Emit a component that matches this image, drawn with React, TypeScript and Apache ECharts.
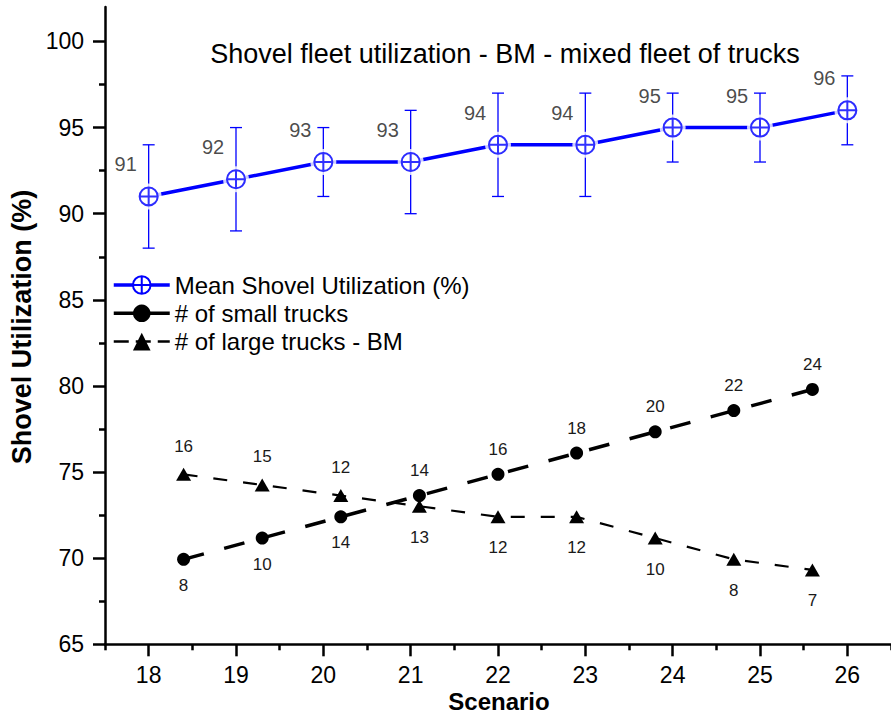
import React, { useEffect, useRef } from 'react';
import * as echarts from 'echarts';

const scenarios = [18, 19, 20, 21, 22, 23, 24, 25, 26];
const meanUtil = [91, 92, 93, 93, 94, 94, 95, 95, 96];
const utilLow = [88, 89, 91, 90, 91, 91, 93, 93, 94];
const utilHigh = [94, 95, 95, 96, 97, 97, 97, 97, 98];

const truckSeq = [1, 2, 3, 4, 5, 6, 7, 8, 9];
const smallTrucks = [8, 10, 12, 14, 16, 18, 20, 22, 24];
const largeTrucks = [16, 15, 14, 13, 12, 12, 10, 8, 7];
const smallTruckLabels = ['8', '10', '14', '14', '16', '18', '20', '22', '24'];
const largeTruckLabels = ['16', '15', '12', '13', '12', '12', '10', '8', '7'];
const smallLabelSide = ['below', 'below', 'below', 'above', 'above', 'above', 'above', 'above', 'above'];
const largeLabelSide = ['above', 'above', 'above', 'below', 'below', 'below', 'below', 'below', 'below'];

const xTicks = [18, 19, 20, 21, 22, 23, 24, 25, 26];
const xMinorTicks = [17.5, 18.5, 19.5, 20.5, 21.5, 22.5, 23.5, 24.5, 25.5, 26.5];
const yTicks = [65, 70, 75, 80, 85, 90, 95, 100];
const yMinorTicks = [67.5, 72.5, 77.5, 82.5, 87.5, 92.5, 97.5];

const NAME_MEAN = 'Mean Shovel Utilization (%)';
const NAME_SMALL = '# of small trucks';
const NAME_LARGE = '# of large trucks - BM';

const BLUE = '#0000ff';
const FONT = 'Arial, "Liberation Sans", sans-serif';
const MARKER = 'path://M0,-10A10,10,0,1,1,0,10A10,10,0,1,1,0,-10ZM-10,0L10,0M0,-10L0,10';

function buildOption() {
  const axisLine = { show: true, lineStyle: { color: '#000', width: 2.5 } };
  const meanData = scenarios.map((s, i) => [s, meanUtil[i]]);
  return {
    animation: false,
    backgroundColor: '#fff',
    textStyle: { fontFamily: FONT },
    grid: { left: 105, right: -3.3, top: 7, bottom: 70.7, containLabel: false },
    legend: {
      data: [
        { name: NAME_MEAN, lineStyle: { width: 3.5 } },
        { name: NAME_SMALL, lineStyle: { type: 'solid', width: 3.5 } },
        { name: NAME_LARGE, lineStyle: { type: [15, 7], width: 2.5 } },
      ],
      orient: 'vertical',
      left: 107,
      top: 268,
      itemWidth: 56,
      itemHeight: 22,
      itemGap: 4.3,
      textStyle: { fontSize: 24, color: '#000', fontFamily: FONT, lineHeight: 24 },
    },
    xAxis: [
      {
        type: 'value', min: 17.5, max: 26.5, gridIndex: 0, position: 'bottom',
        axisLine,
        axisTick: { show: true, customValues: xTicks, length: 12, lineStyle: { color: '#000', width: 2.5 } },
        axisLabel: { show: true, customValues: xTicks, fontSize: 23, color: '#000', margin: 19, fontFamily: FONT },
        splitLine: { show: false },
      },
      { type: 'value', min: 0, max: 10, show: false, gridIndex: 0 },
      {
        type: 'value', min: 17.5, max: 26.5, gridIndex: 0, position: 'bottom',
        axisLine: { show: false },
        axisTick: { show: true, customValues: xMinorTicks, length: 6, lineStyle: { color: '#000', width: 2.5 } },
        axisLabel: { show: false },
        splitLine: { show: false },
      },
    ],
    yAxis: [
      {
        type: 'value', min: 65, max: 102, position: 'left',
        axisLine,
        axisTick: { show: true, customValues: yTicks, length: 12, lineStyle: { color: '#000', width: 2.5 } },
        axisLabel: { show: true, customValues: yTicks, fontSize: 23, color: '#000', margin: 21, fontFamily: FONT },
        splitLine: { show: false },
      },
      {
        type: 'value', min: 65, max: 102, position: 'left',
        axisLine: { show: false },
        axisTick: { show: true, customValues: yMinorTicks, length: 6, lineStyle: { color: '#000', width: 2.5 } },
        axisLabel: { show: false },
        splitLine: { show: false },
      },
      { type: 'value', min: 0, max: 60, show: false },
    ],
    graphic: [
      {
        type: 'text', x: 505, y: 54,
        style: { text: 'Shovel fleet utilization - BM - mixed fleet of trucks', fontSize: 27, fontFamily: FONT, fill: '#000', textAlign: 'center', textVerticalAlign: 'middle' },
      },
      {
        type: 'text', x: 22, y: 327, rotation: Math.PI / 2,
        style: { text: 'Shovel Utilization (%)', fontSize: 27, fontWeight: 'bold', fontFamily: FONT, fill: '#000', textAlign: 'center', textVerticalAlign: 'middle' },
      },
      {
        type: 'text', x: 499, y: 701.5,
        style: { text: 'Scenario', fontSize: 24, fontWeight: 'bold', fontFamily: FONT, fill: '#000', textAlign: 'center', textVerticalAlign: 'middle' },
      },
    ],
    series: [
      {
        name: NAME_LARGE,
        type: 'line',
        xAxisIndex: 1, yAxisIndex: 2,
        data: truckSeq.map((s, i) => ({
          value: [s, largeTrucks[i]],
          label: { offset: [0, largeLabelSide[i] === 'below' ? 31 : -28] },
        })),
        symbol: 'triangle',
        symbolSize: [15, 13],
        itemStyle: { color: '#000' },
        lineStyle: { color: '#000', width: 2.2, type: [14, 16] },
        label: {
          show: true, position: 'inside', fontSize: 17, color: '#1a1a1a', fontFamily: FONT,
          formatter: (p: any) => largeTruckLabels[p.dataIndex],
        },
        z: 3,
      },
      {
        name: NAME_SMALL,
        type: 'line',
        xAxisIndex: 1, yAxisIndex: 2,
        data: truckSeq.map((s, i) => ({
          value: [s, smallTrucks[i]],
          label: { offset: [0, smallLabelSide[i] === 'below' ? 26 : -25] },
        })),
        symbol: 'circle',
        symbolSize: 13,
        itemStyle: { color: '#000' },
        lineStyle: { color: '#000', width: 3.5, type: [21, 21] },
        label: {
          show: true, position: 'inside', fontSize: 17, color: '#1a1a1a', fontFamily: FONT,
          formatter: (p: any) => smallTruckLabels[p.dataIndex],
        },
        z: 3,
      },
      {
        name: NAME_MEAN,
        type: 'line',
        data: meanData,
        symbol: MARKER,
        symbolSize: 18,
        itemStyle: { color: '#fff', borderColor: BLUE, borderWidth: 2 },
        lineStyle: { color: BLUE, width: 3.5 },
        z: 3,
      },
      {
        name: 'halo',
        type: 'scatter',
        data: meanData,
        symbol: 'circle',
        symbolSize: 26,
        itemStyle: { color: '#fff' },
        silent: true,
        z: 3,
      },
      {
        name: 'errors',
        type: 'custom',
        data: scenarios.map((s, i) => [s, utilLow[i], utilHigh[i]]),
        encode: { x: 0, y: [1, 2] },
        renderItem: (params: any, api: any) => {
          const x = api.value(0);
          const lo = api.coord([x, api.value(1)]);
          const hi = api.coord([x, api.value(2)]);
          const cap = 6;
          const style = { stroke: BLUE, lineWidth: 1.3 };
          return {
            type: 'group',
            children: [
              { type: 'line', shape: { x1: hi[0], y1: hi[1], x2: lo[0], y2: lo[1] }, style },
              { type: 'line', shape: { x1: hi[0] - cap, y1: hi[1], x2: hi[0] + cap, y2: hi[1] }, style },
              { type: 'line', shape: { x1: lo[0] - cap, y1: lo[1], x2: lo[0] + cap, y2: lo[1] }, style },
            ],
          };
        },
        silent: true,
        z: 3,
      },
      {
        name: 'markers',
        type: 'scatter',
        data: meanData,
        symbol: MARKER,
        symbolSize: 18,
        itemStyle: { color: '#fff', borderColor: BLUE, borderWidth: 2 },
        label: {
          show: true, position: 'inside', offset: [-23, -32], fontSize: 20, color: '#1a1a1a', fontFamily: FONT,
          formatter: (p: any) => String(p.value[1]),
        },
        z: 3,
      },
    ],
  };
}

export default function App() {
  const ref = useRef<HTMLDivElement>(null);
  useEffect(() => {
    if (!ref.current) return;
    const chart = echarts.init(ref.current, null, { renderer: 'svg' });
    chart.setOption(buildOption() as any);
    return () => chart.dispose();
  }, []);
  return (
    <div
      ref={ref}
      style={{ position: 'fixed', left: 0, top: 0, width: 891, height: 715, background: '#fff' }}
    />
  );
}
